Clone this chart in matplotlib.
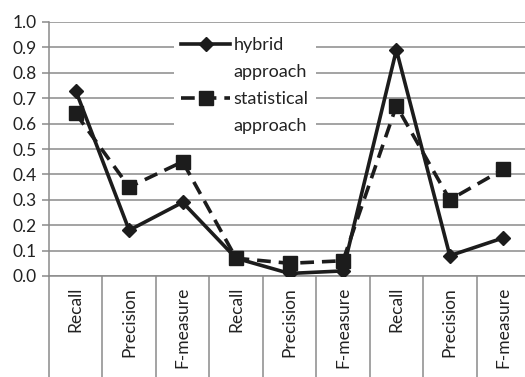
import matplotlib
matplotlib.use("Agg")
import matplotlib.pyplot as plt
from matplotlib.lines import Line2D

categories = ["Recall", "Precision", "F-measure",
              "Recall", "Precision", "F-measure",
              "Recall", "Precision", "F-measure"]
hybrid = [0.73, 0.18, 0.29, 0.07, 0.01, 0.02, 0.89, 0.08, 0.15]
statistical = [0.64, 0.35, 0.45, 0.07, 0.05, 0.06, 0.67, 0.30, 0.42]
yticks = [0.0, 0.1, 0.2, 0.3, 0.4, 0.5, 0.6, 0.7, 0.8, 0.9, 1.0]
ytick_labels = ["0.0", "0.1", "0.2", "0.3", "0.4", "0.5", "0.6", "0.7", "0.8", "0.9", "1.0"]

plt.rcParams['font.family'] = ['Lato', 'DejaVu Sans']

fig = plt.figure(figsize=(5.25, 3.77), dpi=100)
ax = fig.add_axes([49/525, 101/377, 481/525, 254/377])

x = list(range(len(categories)))
ink = "#1c1c1c"
grid_c = "#8a8a8a"
dash = (0, (3.8, 2.2))

ax.plot(x, hybrid, color=ink, lw=2.6, marker="D", markersize=7.5, zorder=4,
        label="hybrid")
ax.plot(x, statistical, color=ink, lw=2.6, ls=dash, marker="s",
        markersize=9.5, zorder=3, label="statistical")

ax.set_xlim(-0.5, len(categories) - 0.5)
ax.set_ylim(0, 1.0)
ax.set_yticks(yticks)
ax.set_yticklabels(ytick_labels, fontsize=12.5, color="#222222")
ax.yaxis.grid(True, color=grid_c, lw=1.1)
ax.set_axisbelow(True)

ax.set_xticks(x)
ax.set_xticklabels(categories, rotation=90, fontsize=12.5, color="#222222")
ax.tick_params(axis="x", which="major", length=0, pad=8)
ax.set_xticks([i + 0.5 for i in range(-1, len(categories))], minor=True)
ax.tick_params(axis="x", which="minor", length=75, width=1.1, color=grid_c,
               direction="out")
ax.tick_params(axis="y", length=5, width=1.1, color=grid_c, pad=4)

for s in ["top", "right"]:
    ax.spines[s].set_visible(False)
ax.spines["left"].set_color(grid_c)
ax.spines["left"].set_linewidth(1.1)
ax.spines["bottom"].set_color(grid_c)
ax.spines["bottom"].set_linewidth(1.1)

handles = [
    Line2D([], [], color=ink, lw=2.6, marker="D", markersize=7.5),
    Line2D([], [], color="none"),
    Line2D([], [], color=ink, lw=2.6, ls=dash, marker="s", markersize=9.5),
    Line2D([], [], color="none"),
]
labels = ["hybrid", "approach", "statistical", "approach"]
leg = ax.legend(handles, labels, loc="upper left", bbox_to_anchor=(0.26, 0.97),
                frameon=True, fontsize=13, handlelength=2.7, handletextpad=0.2,
                labelspacing=0.62, borderpad=0.4, borderaxespad=0)
leg.get_frame().set_facecolor("white")
leg.get_frame().set_edgecolor("none")
leg.get_frame().set_alpha(1)
for t in leg.get_texts():
    t.set_color("#222222")

fig.savefig("out.png", dpi=100, facecolor="white")
